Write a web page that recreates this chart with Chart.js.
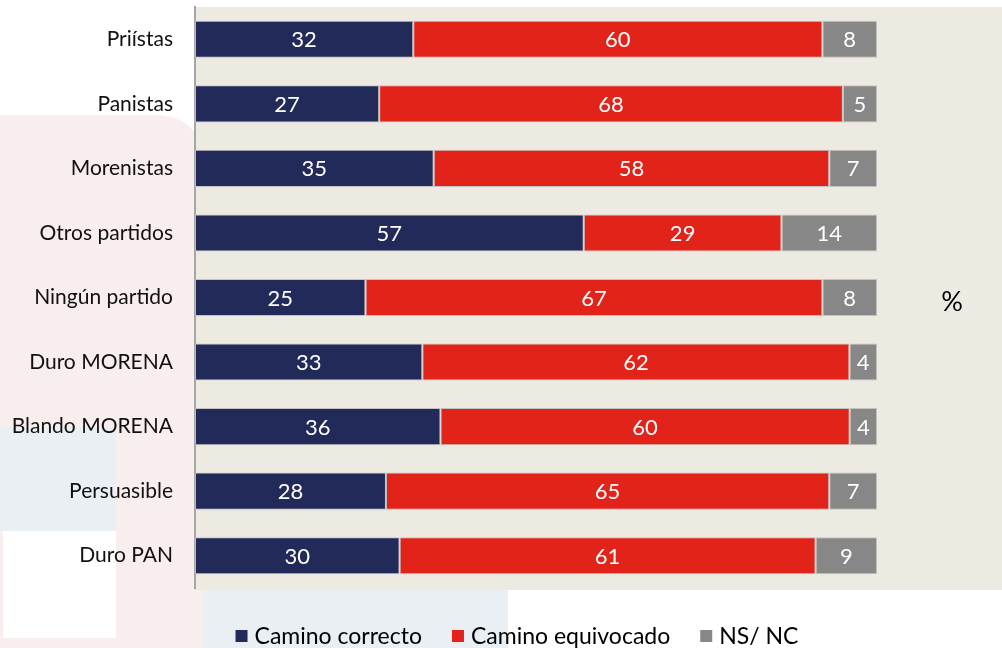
<!DOCTYPE html>
<html>
<head>
<meta charset="utf-8">
<script src="https://cdn.jsdelivr.net/npm/chart.js@4.4.1/dist/chart.umd.min.js"></script>
<style>
  html, body { margin: 0; padding: 0; background: #ffffff; }
  #wrap { width: 1002px; height: 648px; position: relative; }
</style>
</head>
<body>
<div id="wrap"><canvas id="c" width="1002" height="648"></canvas></div>
<script>
const categories = ["Priístas", "Panistas", "Morenistas", "Otros partidos", "Ningún partido", "Duro MORENA", "Blando MORENA", "Persuasible", "Duro PAN"];
const seriesNames = ["Camino correcto", "Camino equivocado", "NS/ NC"];
const caminoCorrecto = [32, 27, 35, 57, 25, 33, 36, 28, 30];
const caminoEquivocado = [60, 68, 58, 29, 67, 62, 60, 65, 61];
const nsNc = [8, 5, 7, 14, 8, 4, 4, 7, 9];
const unitLabel = "%";

const COLORS = ["#222A5A", "#E2231A", "#878787"];
const FONT = "Lato, 'Open Sans', sans-serif";

// 100% stacked: each row is drawn as a share of its row total (labels show the raw values)
const rawSeries = [caminoCorrecto, caminoEquivocado, nsNc];
const rowTotals = categories.map((_, i) => rawSeries.reduce((s, arr) => s + arr[i], 0));
const shareOf = arr => arr.map((v, i) => v / rowTotals[i] * 100);

const bgPlugin = {
  id: 'bgDecor',
  beforeDraw(chart) {
    const ctx = chart.ctx, ca = chart.chartArea, W = chart.width, H = chart.height;
    ctx.save();
    ctx.fillStyle = '#F9EEEE';
    ctx.beginPath();
    const r = 50, x0 = 0, y0 = 115, x1 = ca.left + 8;
    ctx.moveTo(x0, y0);
    ctx.lineTo(x1 - r, y0);
    ctx.quadraticCurveTo(x1, y0, x1, y0 + r);
    ctx.lineTo(x1, H);
    ctx.lineTo(x0, H);
    ctx.closePath();
    ctx.fill();
    ctx.fillStyle = '#EAEFF4';
    ctx.fillRect(0, 427, 116, 104);
    ctx.fillStyle = '#FFFFFF';
    ctx.fillRect(3, 531, 113, 107);
    ctx.fillStyle = '#EAEFF4';
    ctx.fillRect(ca.left + 8, ca.bottom, 305, H - ca.bottom);
    ctx.fillStyle = '#EDEBE1';
    ctx.fillRect(ca.left - 1, ca.top, W - ca.left + 1, ca.bottom - ca.top + 2);
    ctx.restore();
  }
};

const labelPlugin = {
  id: 'segLabels',
  afterDatasetsDraw(chart) {
    const ctx = chart.ctx;
    ctx.save();
    ctx.font = "22px " + FONT;
    ctx.fillStyle = '#FFFFFF';
    ctx.textAlign = 'center';
    ctx.textBaseline = 'middle';
    chart.data.datasets.forEach((ds, di) => {
      const meta = chart.getDatasetMeta(di);
      meta.data.forEach((bar, i) => {
        const cx = (bar.x + bar.base) / 2;
        ctx.fillText(String(ds.raw[i]), cx, bar.y + 1);
      });
    });
    const ca = chart.chartArea;
    ctx.fillStyle = '#000000';
    ctx.font = "27px " + FONT;
    ctx.fillText(unitLabel, 952, (ca.top + ca.bottom) / 2 + 5);
    // legend
    ctx.font = "23px " + FONT;
    ctx.textAlign = 'left';
    const box = 12, gapBox = 7, gapItem = 30;
    const widths = seriesNames.map(n => box + gapBox + ctx.measureText(n).width);
    const total = widths.reduce((a, b) => a + b, 0) + gapItem * (seriesNames.length - 1);
    let x = 517 - total / 2;
    const ly = 636;
    seriesNames.forEach((n, i) => {
      ctx.fillStyle = COLORS[i];
      ctx.fillRect(x, ly - 6, box, box);
      ctx.fillStyle = '#000000';
      ctx.fillText(n, x + box + gapBox, ly + 1);
      x += widths[i] + gapItem;
    });
    ctx.restore();
  }
};

const mk = (label, raw, color) => ({
  label,
  raw,
  data: shareOf(raw),
  backgroundColor: color,
  borderColor: 'rgba(190,190,190,0.9)',
  borderWidth: 1,
  borderSkipped: false,
  barPercentage: 0.575,
  categoryPercentage: 1.0
});

new Chart(document.getElementById('c'), {
  type: 'bar',
  data: {
    labels: categories,
    datasets: [
      mk(seriesNames[0], caminoCorrecto, COLORS[0]),
      mk(seriesNames[1], caminoEquivocado, COLORS[1]),
      mk(seriesNames[2], nsNc, COLORS[2])
    ]
  },
  options: {
    indexAxis: 'y',
    responsive: false,
    animation: false,
    layout: { padding: { left: 0, right: 125, top: 7, bottom: 60 } },
    plugins: {
      legend: { display: false },
      tooltip: { enabled: false }
    },
    scales: {
      x: { stacked: true, min: 0, max: 100, display: false },
      y: {
        stacked: true,
        grid: { display: false, drawTicks: false },
        border: { display: true, color: '#A6A6A6', width: 2 },
        ticks: { color: '#111111', font: { family: FONT, size: 21 }, padding: 22 },
        afterFit(scale) { scale.width = 195; scale.paddingTop = 0; scale.paddingBottom = 0; }
      }
    }
  },
  plugins: [bgPlugin, labelPlugin]
});
</script>
</body>
</html>
